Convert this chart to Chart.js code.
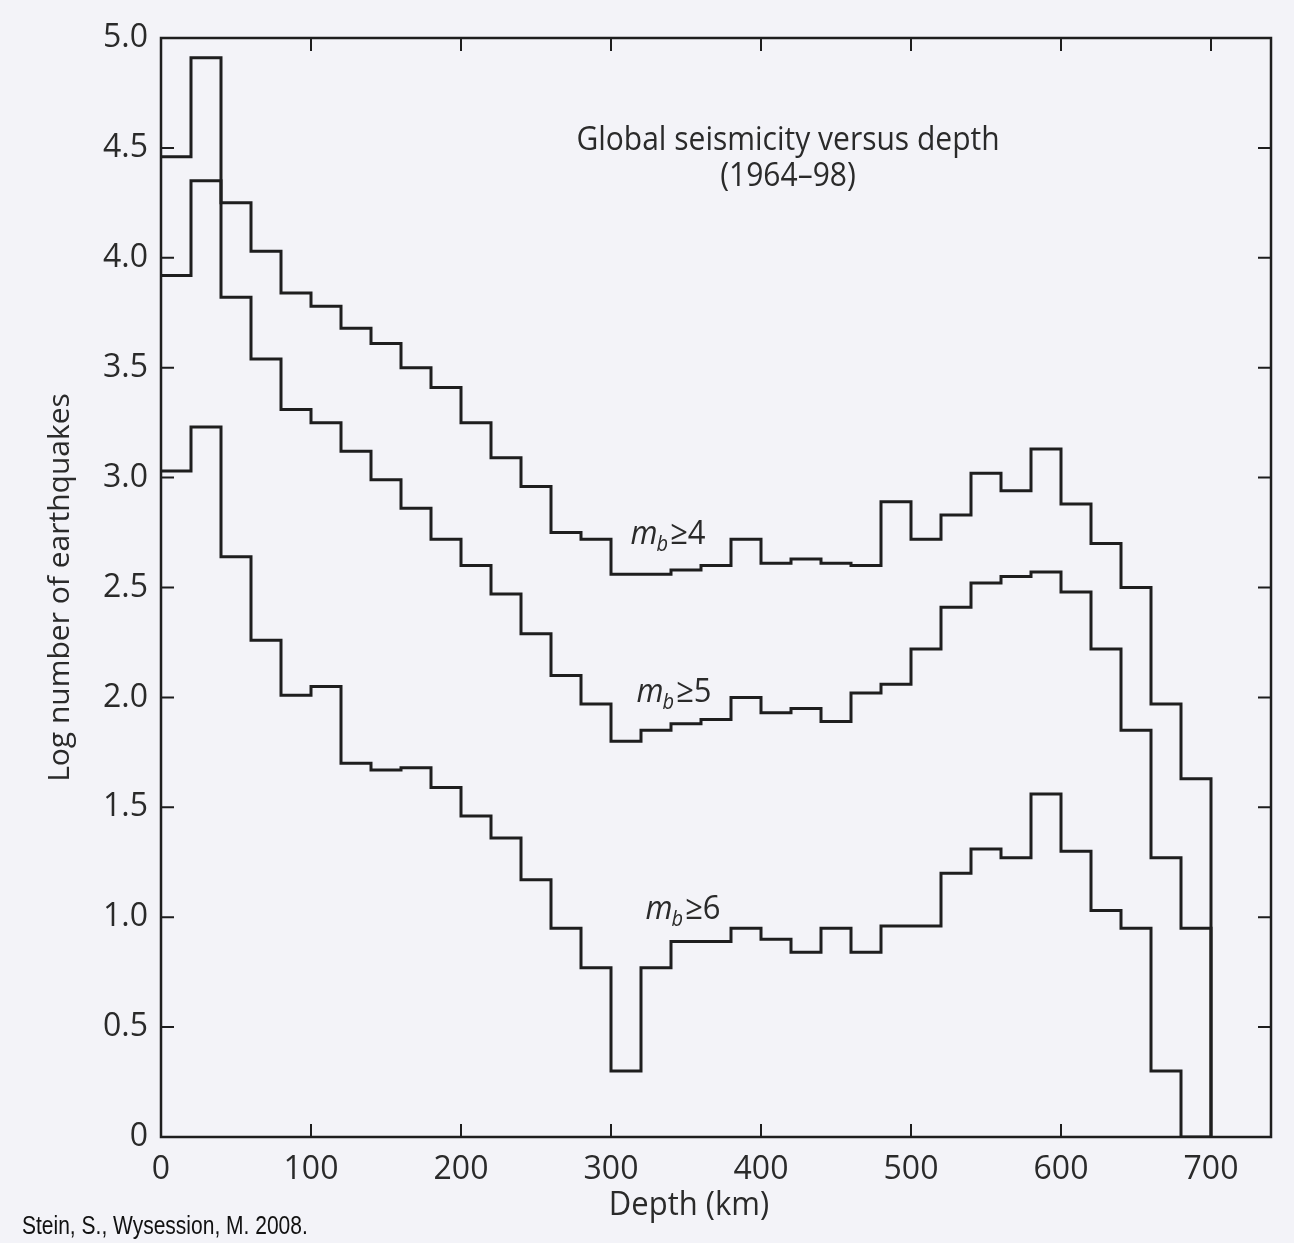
<!DOCTYPE html>
<html>
<head>
<meta charset="utf-8">
<title>Global seismicity versus depth</title>
<script src="https://cdn.jsdelivr.net/npm/chart.js@4.4.1/dist/chart.umd.min.js"></script>
<style>
  html, body { margin: 0; padding: 0; background: #f3f3f8; }
  #wrap { width: 1294px; height: 1243px; }
</style>
</head>
<body>
<div id="wrap"><canvas id="quakes" width="1294" height="1243"></canvas></div>
<script>
// 20 km depth bins, value = log10 of the event count in the bin
const depthBins = [0, 20, 40, 60, 80, 100, 120, 140, 160, 180, 200, 220, 240, 260, 280, 300, 320,
                   340, 360, 380, 400, 420, 440, 460, 480, 500, 520, 540, 560, 580, 600, 620, 640, 660, 680];
const binEnd = 700;

const mb4 = [4.46, 4.91, 4.25, 4.03, 3.84, 3.78, 3.68, 3.61, 3.50, 3.41, 3.25, 3.09, 2.96, 2.75, 2.72, 2.56, 2.56,
             2.58, 2.60, 2.72, 2.61, 2.63, 2.61, 2.60, 2.89, 2.72, 2.83, 3.02, 2.94, 3.13, 2.88, 2.70, 2.50, 1.97, 1.63];
const mb5 = [3.92, 4.35, 3.82, 3.54, 3.31, 3.25, 3.12, 2.99, 2.86, 2.72, 2.60, 2.47, 2.29, 2.10, 1.97, 1.80, 1.85,
             1.88, 1.90, 2.00, 1.93, 1.95, 1.89, 2.02, 2.06, 2.22, 2.41, 2.52, 2.55, 2.57, 2.48, 2.22, 1.85, 1.27, 0.95];
const mb6 = [3.03, 3.23, 2.64, 2.26, 2.01, 2.05, 1.70, 1.67, 1.68, 1.59, 1.46, 1.36, 1.17, 0.95, 0.77, 0.30, 0.77,
             0.89, 0.89, 0.95, 0.90, 0.84, 0.95, 0.84, 0.96, 0.96, 1.20, 1.31, 1.27, 1.56, 1.30, 1.03, 0.95, 0.30, 0];

const xTicks = [0, 100, 200, 300, 400, 500, 600, 700];
const yTicks = [0, 0.5, 1.0, 1.5, 2.0, 2.5, 3.0, 3.5, 4.0, 4.5, 5.0];

// curve labels, anchored in data units (km, log N)
const curveLabels = [
  { mag: '4', depth: 313, value: 2.70 },
  { mag: '5', depth: 317, value: 1.98 },
  { mag: '6', depth: 323, value: 0.99 }
];
const titleLines = ['Global seismicity versus depth', '(1964\u201398)'];
const xTitle = 'Depth (km)';
const credit = 'Stein, S., Wysession, M. 2008.';

const BG = '#f3f3f8';
const INK = '#1e1e1e';
const TEXT = '#2a2a2a';
const FONT = '"Open Sans", "Noto Sans", sans-serif';
const TICK = 13;

// histogram outline: each bin start carries its value, last edge drops to zero
function stepData(values) {
  const pts = depthBins.map((d, i) => ({ x: d, y: values[i] }));
  pts.push({ x: binEnd, y: 0 });
  return pts;
}

function series(values) {
  return {
    data: stepData(values),
    stepped: 'before',
    borderColor: INK,
    borderWidth: 3,
    borderJoinStyle: 'miter',
    pointRadius: 0,
    fill: false
  };
}

// text drawn a little taller than wide, like the printed lettering
function tallText(ctx, str, x, y, sy) {
  ctx.save();
  ctx.translate(x, y);
  ctx.scale(1, sy);
  ctx.fillText(str, 0, 0);
  ctx.restore();
}

const framePlugin = {
  id: 'frame',
  beforeDraw(chart) {
    const ctx = chart.ctx;
    ctx.save();
    ctx.fillStyle = BG;
    ctx.fillRect(0, 0, chart.width, chart.height);
    ctx.restore();
  },
  afterDraw(chart) {
    const { ctx, chartArea: a, scales: { x, y } } = chart;
    ctx.save();

    // box and inward ticks on all four sides
    ctx.strokeStyle = INK;
    ctx.lineWidth = 2.5;
    ctx.strokeRect(a.left, a.top, a.right - a.left, a.bottom - a.top);
    ctx.lineWidth = 2;
    ctx.beginPath();
    xTicks.forEach(v => {
      if (v === 0) return;
      const px = x.getPixelForValue(v);
      ctx.moveTo(px, a.bottom); ctx.lineTo(px, a.bottom - TICK);
      ctx.moveTo(px, a.top); ctx.lineTo(px, a.top + TICK);
    });
    yTicks.forEach(v => {
      if (v === 0 || v === 5) return;
      const py = y.getPixelForValue(v);
      ctx.moveTo(a.left, py); ctx.lineTo(a.left + TICK, py);
      ctx.moveTo(a.right, py); ctx.lineTo(a.right - TICK, py);
    });
    ctx.stroke();

    // title block
    ctx.fillStyle = TEXT;
    ctx.textAlign = 'center';
    ctx.textBaseline = 'alphabetic';
    ctx.font = '30px ' + FONT;
    const tx = x.getPixelForValue(418);
    tallText(ctx, titleLines[0], tx, y.getPixelForValue(4.49), 1.12);
    tallText(ctx, titleLines[1], tx, y.getPixelForValue(4.325), 1.12);

    // depth axis title, set a little left of the plot centre
    ctx.font = '31px ' + FONT;
    tallText(ctx, xTitle, x.getPixelForValue(352), a.bottom + 78, 1.08);

    // m_b >= n labels
    ctx.textAlign = 'left';
    curveLabels.forEach(l => {
      let px = x.getPixelForValue(l.depth);
      const py = y.getPixelForValue(l.value);
      ctx.font = 'italic 31px ' + FONT;
      tallText(ctx, 'm', px, py, 1.08);
      px += ctx.measureText('m').width - 1;
      ctx.font = 'italic 20px ' + FONT;
      tallText(ctx, 'b', px, py + 7, 1.08);
      px += ctx.measureText('b').width + 2;
      ctx.font = '31px ' + FONT;
      tallText(ctx, '\u2265' + l.mag, px, py, 1.08);
    });

    // source line
    ctx.fillStyle = '#111';
    ctx.font = '21px "Liberation Sans", Arial, sans-serif';
    tallText(ctx, credit, 22, 1234, 1.25);
    ctx.restore();
  }
};

new Chart(document.getElementById('quakes'), {
  type: 'line',
  data: { datasets: [series(mb4), series(mb5), series(mb6)] },
  options: {
    responsive: false,
    animation: false,
    devicePixelRatio: 1,
    layout: { padding: { top: 38, right: 23, left: 0, bottom: 0 } },
    plugins: { legend: { display: false }, tooltip: { enabled: false } },
    scales: {
      x: {
        type: 'linear',
        min: 0,
        max: 740,
        grid: { display: false, drawTicks: false },
        border: { display: false },
        afterBuildTicks: s => { s.ticks = xTicks.map(v => ({ value: v })); },
        afterFit: s => { s.height = 106; },
        ticks: {
          padding: 14,
          color: TEXT,
          font: { family: FONT, size: 32 },
          maxRotation: 0
        }
      },
      y: {
        type: 'linear',
        min: 0,
        max: 5,
        grid: { display: false, drawTicks: false },
        border: { display: false },
        afterBuildTicks: s => { s.ticks = yTicks.map(v => ({ value: v })); },
        afterFit: s => { s.width = 161; },
        ticks: {
          padding: 13,
          color: TEXT,
          font: { family: FONT, size: 32 },
          callback: v => v === 0 ? '0' : v.toFixed(1)
        },
        title: {
          display: true,
          text: 'Log number of earthquakes',
          color: TEXT,
          font: { family: FONT, size: 30 },
          padding: { top: 42, bottom: 0 }
        }
      }
    }
  },
  plugins: [framePlugin]
});
</script>
</body>
</html>
